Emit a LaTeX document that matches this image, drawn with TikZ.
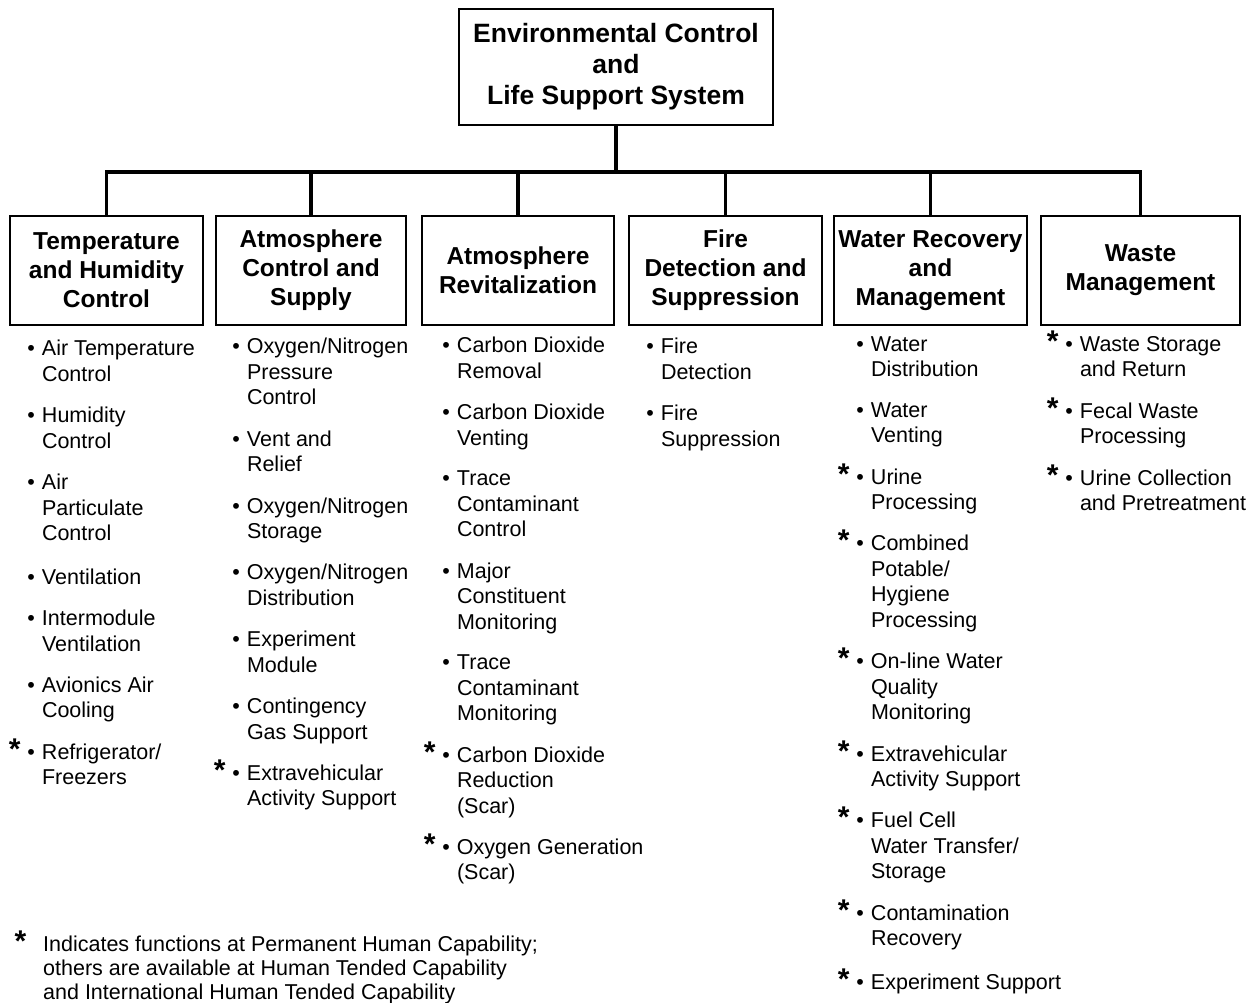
\documentclass[tikz,border=0pt]{standalone}
\usepackage{fontspec}
\setmainfont{Liberation Sans}
\usetikzlibrary{calc}
\usetikzlibrary{positioning}

\newcommand{\itembul}{\leavevmode\llap{\textbullet\hspace{7pt}}}
\newcommand{\starmark}{\smash{\fontsize{30}{30}\selectfont\bfseries *}}
\newcommand{\staritem}{\leavevmode\llap{\starmark\hspace{7pt}\textbullet\hspace{7pt}}}

\begin{document}
\begin{tikzpicture}[x=1pt, y=1pt,
    box/.style={shape=rectangle, draw, line width=2.4pt, align=center,
      minimum height=109pt, inner sep=2pt,
      font=\fontsize{24.5}{29}\selectfont\bfseries},
    itm/.style={align=left, inner sep=0pt,
      font=\fontsize{21.5}{25.5}\selectfont,
      execute at begin node=\strut,
      execute at end node=\strut},
    nxt/.style={below=17.7pt of #1.south west, anchor=north west},
    conn/.style={line width=3.5pt}]

    \path [use as bounding box] (0,0) rectangle (1258,-1003);

    \node[name=ecls, box,
      minimum width=314pt,
      minimum height=116pt,
      font=\fontsize{26.5}{31}\selectfont\bfseries] at (616,-67)
      {Environmental Control\\and\\Life Support System};

    % subsystems
    \node[name=thc, box, minimum width=193pt] at (106.5,-270.5) {Temperature\\and Humidity\\Control};
    \node[name=acs, box, minimum width=190pt] at (311,-270.5) {Atmosphere\\Control and\\Supply};
    \node[name=arv, box, minimum width=192pt] at (518,-270.5) {Atmosphere\\Revitalization};
    \node[name=fds, box, minimum width=193pt] at (725.5,-270.5) {Fire\\Detection and\\Suppression};
    \node[name=wrm, box, minimum width=193pt] at (930.5,-270.5) {Water Recovery\\and\\Management};
    \node[name=wm, box, minimum width=199pt] at (1140.5,-270.5) {Waste\\Management};

    \coordinate (hub) at ($(ecls.south)+(0,-46)$);
    \draw[conn] (ecls.south) -- (hub);
    \draw[conn] (thc.north) |- (wm.north |- hub) -- (wm.north);
    \foreach \n in {acs, arv, fds, wrm}
      \draw[conn] (\n.north) -- (\n.north |- hub);

    % temperature and humidity
    \node[name=thc1, itm, below right=14pt and 33pt of thc.south west] {\itembul Air Temperature\\Control};
    \node[name=thc2, itm, nxt=thc1] {\itembul Humidity\\Control};
    \node[name=thc3, itm, nxt=thc2] {\itembul Air\\Particulate\\Control};
    \node[name=thc4, itm, nxt=thc3] {\itembul Ventilation};
    \node[name=thc5, itm, nxt=thc4] {\itembul Intermodule\\Ventilation};
    \node[name=thc6, itm, nxt=thc5] {\itembul Avionics Air\\Cooling};
    \node[name=thc7, itm, nxt=thc6] {\staritem Refrigerator/\\Freezers};

    % atmosphere control and supply
    \node[name=acs1, itm, below right=12pt and 32pt of acs.south west] {\itembul Oxygen/Nitrogen\\Pressure\\Control};
    \node[name=acs2, itm, nxt=acs1] {\itembul Vent and\\Relief};
    \node[name=acs3, itm, nxt=acs2] {\itembul Oxygen/Nitrogen\\Storage};
    \node[name=acs4, itm, nxt=acs3] {\itembul Oxygen/Nitrogen\\Distribution};
    \node[name=acs5, itm, nxt=acs4] {\itembul Experiment\\Module};
    \node[name=acs6, itm, nxt=acs5] {\itembul Contingency\\Gas Support};
    \node[name=acs7, itm, nxt=acs6] {\staritem Extravehicular\\Activity Support};

    % atmosphere revitalization
    \node[name=arv1, itm, below right=11pt and 36pt of arv.south west] {\itembul Carbon Dioxide\\Removal};
    \node[name=arv2, itm, nxt=arv1] {\itembul Carbon Dioxide\\Venting};
    \node[name=arv3, itm, nxt=arv2] {\itembul Trace\\Contaminant\\Control};
    \node[name=arv4, itm, nxt=arv3] {\itembul Major\\Constituent\\Monitoring};
    \node[name=arv5, itm, nxt=arv4] {\itembul Trace\\Contaminant\\Monitoring};
    \node[name=arv6, itm, nxt=arv5] {\staritem Carbon Dioxide\\Reduction\\(Scar)};
    \node[name=arv7, itm, nxt=arv6] {\staritem Oxygen Generation\\(Scar)};

    % fire detection and suppression
    \node[name=fds1, itm, below right=12pt and 33pt of fds.south west] {\itembul Fire\\Detection};
    \node[name=fds2, itm, nxt=fds1] {\itembul Fire\\Suppression};

    % water recovery and management
    \node[name=wrm1, itm, below right=10pt and 38pt of wrm.south west] {\itembul Water\\Distribution};
    \node[name=wrm2, itm, nxt=wrm1] {\itembul Water\\Venting};
    \node[name=wrm3, itm, nxt=wrm2] {\staritem Urine\\Processing};
    \node[name=wrm4, itm, nxt=wrm3] {\staritem Combined\\Potable/\\Hygiene\\Processing};
    \node[name=wrm5, itm, nxt=wrm4] {\staritem On-line Water\\Quality\\Monitoring};
    \node[name=wrm6, itm, nxt=wrm5] {\staritem Extravehicular\\Activity Support};
    \node[name=wrm7, itm, nxt=wrm6] {\staritem Fuel Cell\\Water Transfer/\\Storage};
    \node[name=wrm8, itm, nxt=wrm7] {\staritem Contamination\\Recovery};
    \node[name=wrm9, itm, nxt=wrm8] {\staritem Experiment Support};

    % waste management
    \node[name=wm1, itm, below right=10pt and 40pt of wm.south west] {\staritem Waste Storage\\and Return};
    \node[name=wm2, itm, nxt=wm1] {\staritem Fecal Waste\\Processing};
    \node[name=wm3, itm, nxt=wm2] {\staritem Urine Collection\\and Pretreatment};

    % footnote
    \node[name=note, itm,
      font=\fontsize{21.5}{24}\selectfont,
      anchor=north west] at (43,-936)
      {\leavevmode\llap{\starmark\hspace{17pt}}Indicates functions at Permanent Human Capability;\\others are available at Human Tended Capability\\and International Human Tended Capability};
  \end{tikzpicture}
\end{document}
